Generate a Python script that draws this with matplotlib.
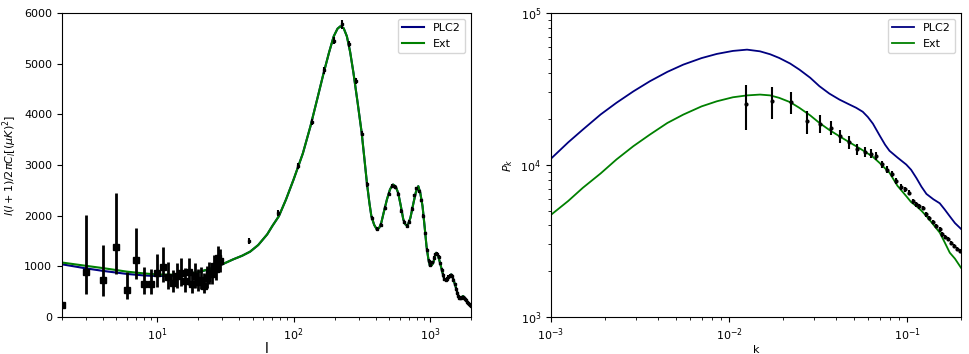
import numpy as np
import matplotlib
matplotlib.use("Agg")
import matplotlib.pyplot as plt

# --- CMB TT spectrum: model curves ---
ell_low = [2, 3, 4, 6, 8, 10, 13, 16, 20, 25, 30]
dl_plc2_low = [1040, 960, 910, 850, 820, 808, 815, 835, 880, 960, 1040]
dl_ext_low = [1075, 1010, 965, 895, 860, 840, 835, 845, 885, 960, 1040]

ell_high = [36, 42, 48, 55, 64, 70, 78, 88, 100, 117, 133, 150, 165, 182, 197, 210,
            220, 233, 246, 260, 275, 295, 316, 330, 345, 360, 372, 390, 408, 425,
            440, 460, 484, 510, 536, 560, 585, 610, 638, 660, 684, 720, 758, 790,
            822, 850, 883, 915, 944, 975, 1000, 1030, 1059, 1090, 1112, 1140, 1187,
            1230, 1276, 1310, 1352, 1400, 1433, 1480, 1540, 1590, 1630, 1690, 1750,
            1800, 1860, 1930, 2000]
dl_high = [1137, 1210, 1290, 1420, 1630, 1800, 1990, 2320, 2713, 3230, 3765, 4330,
           4783, 5220, 5540, 5690, 5736, 5700, 5540, 5230, 4816, 4230, 3633, 3150,
           2648, 2250, 1990, 1820, 1728, 1760, 1860, 2080, 2320, 2520, 2615, 2580,
           2450, 2210, 1925, 1830, 1794, 1960, 2254, 2470, 2582, 2450, 2188, 1780,
           1400, 1140, 1010, 1020, 1071, 1200, 1268, 1230, 1071, 900, 742, 730, 775,
           820, 841, 760, 611, 480, 381, 380, 414, 380, 315, 260, 217]

# low-l data points with asymmetric errors
ell_lo_pts = [2, 3, 4, 5, 6, 7, 8, 9, 10, 11, 12, 13, 14, 15, 16, 17, 18, 19, 20,
              21, 22, 23, 24, 25, 26, 27, 28, 29]
dl_lo_pts = [231, 890, 730, 1390, 540, 1125, 650, 650, 865, 990, 790, 680, 810,
             860, 710, 880, 650, 800, 690, 740, 620, 770, 860, 840, 1000, 940,
             1160, 1100]
dl_lo_up = [240, 2020, 1420, 2450, 890, 1760, 990, 950, 1250, 1390, 1080, 930,
            1060, 1170, 960, 1160, 900, 1060, 940, 990, 870, 1000, 1080, 1060,
            1220, 1170, 1400, 1340]
dl_lo_dn = [220, 450, 410, 840, 350, 750, 450, 450, 600, 700, 560, 500, 580, 620,
            500, 640, 480, 580, 520, 550, 470, 580, 660, 650, 790, 730, 930, 880]

# binned high-l data points
ell_hi_pts = [47, 77, 107, 137, 167, 197, 227, 257, 287, 317, 347, 377, 407, 437,
              467, 497, 527, 557, 587, 617, 647, 677, 707, 737, 767, 797, 827, 857,
              887, 917, 947, 977, 1007, 1037, 1067, 1097, 1127, 1157, 1187, 1217,
              1247, 1277, 1307, 1337, 1367, 1397, 1427, 1457, 1487, 1517, 1547,
              1577, 1607, 1637, 1667, 1697, 1727, 1757, 1787, 1817, 1847, 1877,
              1907, 1937, 1967, 1997]
dl_hi_pts = [1500, 2050, 2980, 3850, 4870, 5450, 5780, 5380, 4650, 3620, 2620, 1960,
             1740, 1820, 2150, 2420, 2580, 2560, 2420, 2100, 1870, 1800, 1880, 2130,
             2400, 2540, 2480, 2300, 2000, 1650, 1330, 1110, 1030, 1080, 1170, 1240,
             1250, 1190, 1060, 930, 830, 750, 730, 750, 790, 810, 820, 800, 740, 650,
             560, 480, 420, 380, 370, 380, 390, 390, 380, 360, 330, 300, 270, 250,
             230, 215]
dl_hi_err = [60, 60, 60, 60, 70, 70, 90, 60, 60, 50, 45, 40, 40, 40, 40, 40, 40, 40,
             40, 40, 35, 35, 35, 35, 35, 35, 35, 35, 35, 30, 30, 30, 30, 30, 30, 30,
             30, 30, 30, 30, 30, 30, 30, 30, 30, 30, 30, 30, 30, 30, 30, 30, 30, 30,
             30, 30, 30, 30, 30, 30, 30, 30, 30, 30, 30, 30]

# --- Matter power spectrum ---
k_model = [1.0e-3, 1.25e-3, 1.51e-3, 1.9e-3, 2.33e-3, 2.9e-3, 3.59e-3, 4.5e-3,
           5.53e-3, 7.0e-3, 8.53e-3, 1.05e-2, 1.26e-2, 1.49e-2, 1.7e-2, 1.91e-2,
           2.2e-2, 2.48e-2, 2.85e-2, 3.21e-2, 3.65e-2, 4.16e-2, 4.73e-2, 5.16e-2,
           5.62e-2, 6.0e-2, 6.41e-2, 7.0e-2, 7.5e-2, 7.94e-2, 8.8e-2, 9.86e-2,
           0.105, 0.1125, 0.12, 0.128, 0.14, 0.152, 0.162, 0.173, 0.185, 0.2]
pk_plc2 = [11000, 14100, 17100, 21500, 25650, 30500, 35560, 41000, 45750, 50500,
           53800, 56300, 57400, 55950, 53500, 50600, 46500, 42400, 37500, 33000,
           29500, 26930, 25000, 23800, 22400, 20700, 18700, 15600, 13600, 12400,
           11200, 10070, 9300, 8200, 7200, 6450, 5950, 5600, 5100, 4600, 4150, 3800]
pk_ext = [4700, 5800, 7080, 8800, 10870, 13300, 15850, 18900, 21460, 24300, 26250,
          27900, 28700, 29060, 28700, 27650, 25900, 23760, 21200, 18920, 17000,
          15450, 14100, 13290, 12500, 11900, 11300, 10300, 9500, 8890, 7300, 6240,
          5700, 5360, 5000, 4610, 4050, 3590, 3100, 2650, 2420, 2110]

k_pts = [0.01242, 0.0174, 0.0222, 0.0274, 0.0324, 0.0373, 0.0421, 0.0473, 0.0523,
         0.0576, 0.0622, 0.0670, 0.0723, 0.0769, 0.0820, 0.0868, 0.0917, 0.0966,
         0.1016, 0.107, 0.112, 0.117, 0.122, 0.127, 0.133, 0.139, 0.145, 0.152,
         0.157, 0.163, 0.169, 0.176, 0.183, 0.190, 0.197]
pk_pts = [25350, 26300, 25900, 19400, 18740, 17550, 15480, 14130, 12650, 12150,
          11900, 11440, 10080, 9330, 8790, 7830, 7150, 6900, 6560, 5780, 5500, 5360,
          5220, 4730, 4500, 4210, 3960, 3770, 3490, 3370, 3240, 3080, 2930, 2810,
          2720]
pk_err = [8400, 6100, 4100, 3300, 2500, 1900, 1500, 1300, 1000, 900, 800, 700, 500,
          450, 400, 350, 300, 280, 250, 220, 200, 190, 180, 160, 150, 140, 130, 120,
          110, 100, 95, 90, 85, 80, 75]

fig = plt.figure(figsize=(9.7, 3.54), dpi=100)
ax1 = fig.add_axes([0.0639, 0.1045, 0.4216, 0.8588])
ax2 = fig.add_axes([0.568, 0.1045, 0.4227, 0.8588])

# left panel: CMB
ax1.plot(ell_low + ell_high, dl_plc2_low + dl_high, color='navy', lw=1.5, label='PLC2')
ax1.plot(ell_low + ell_high, dl_ext_low + dl_high, color='green', lw=1.5, label='Ext')
lo = np.array(dl_lo_pts)
ax1.errorbar(ell_lo_pts, lo, yerr=[lo - np.array(dl_lo_dn), np.array(dl_lo_up) - lo],
             fmt='s', color='black', ms=4, elinewidth=2, capsize=0)
ax1.errorbar(ell_hi_pts, dl_hi_pts, yerr=dl_hi_err, fmt='s', color='black', ms=1.5,
             elinewidth=1.5, capsize=0)
ax1.set_xscale('log')
ax1.set_xlim(2, 2000)
ax1.set_ylim(0, 6000)
ax1.set_xlabel('l', fontsize=10, labelpad=-1)
ax1.set_ylabel(r'$l(l+1)/2\pi C_l[(\mu K)^2]$', fontsize=8)
ax1.tick_params(labelsize=8)
ax1.legend(loc='upper right', fontsize=8)

# right panel: P(k)
ax2.plot(k_model, pk_plc2, color='navy', lw=1.3, label='PLC2')
ax2.plot(k_model, pk_ext, color='green', lw=1.3, label='Ext')
ax2.errorbar(k_pts, pk_pts, yerr=pk_err, fmt='o', color='black', ms=2,
             elinewidth=1.5, capsize=0)
ax2.set_xscale('log')
ax2.set_yscale('log')
ax2.set_xlim(1e-3, 0.2)
ax2.set_ylim(1e3, 1e5)
ax2.set_xlabel('k', fontsize=8, labelpad=1)
ax2.set_ylabel(r'$P_k$', fontsize=8)
ax2.tick_params(labelsize=8)
ax2.legend(loc='upper right', fontsize=8)

fig.savefig('out.png', dpi=100)
